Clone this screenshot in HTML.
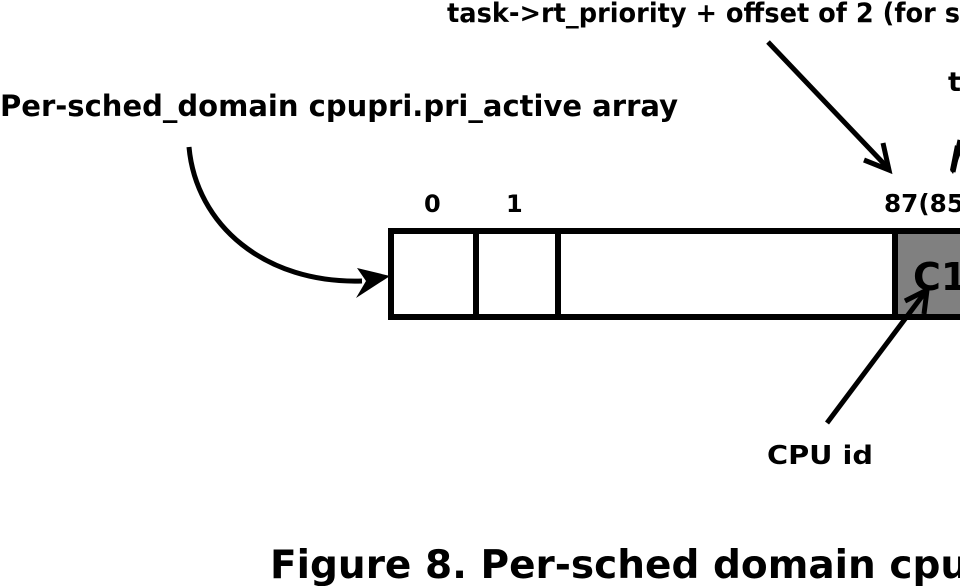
<!DOCTYPE html>
<html><head><meta charset="utf-8"><style>
html,body{margin:0;padding:0;background:#fff;width:960px;height:586px;overflow:hidden}
svg text{font-family:"DejaVu Sans","Liberation Sans",sans-serif;font-weight:bold;fill:#000}
</style></head><body>
<svg width="960" height="586" viewBox="0 0 960 586" xmlns="http://www.w3.org/2000/svg">
<text x="447" y="22" font-size="27" textLength="513" lengthAdjust="spacingAndGlyphs">task-&gt;rt_priority + offset of 2 (for s</text>
<text x="0" y="116" font-size="29" textLength="678" lengthAdjust="spacingAndGlyphs">Per-sched_domain cpupri.pri_active array</text>
<text x="948" y="91" font-size="27">t</text>
<text x="424" y="212" font-size="24">0</text>
<text x="506" y="212" font-size="24">1</text>
<text x="884" y="212" font-size="25" textLength="80" lengthAdjust="spacingAndGlyphs">87(85</text>
<rect x="895" y="231" width="70" height="86" fill="#808080"/>
<rect x="391" y="231" width="600" height="86" fill="none" stroke="#000" stroke-width="6"/>
<line x1="476" y1="231" x2="476" y2="317" stroke="#000" stroke-width="6"/>
<line x1="558" y1="231" x2="558" y2="317" stroke="#000" stroke-width="6"/>
<line x1="895" y1="231" x2="895" y2="317" stroke="#000" stroke-width="6"/>
<text x="913" y="290" font-size="38">C1</text>
<path d="M189,147 C196,225 265,284 362,281" fill="none" stroke="#000" stroke-width="5"/>
<polygon points="390,276 357,268 366,281 356,298" fill="#000"/>
<line x1="768" y1="42" x2="887" y2="167" stroke="#000" stroke-width="5"/>
<polyline points="864,160 889,170 883,143" fill="none" stroke="#000" stroke-width="5"/>
<line x1="960" y1="140" x2="953" y2="172" stroke="#000" stroke-width="5"/>
<polygon points="955,145 962,150 953,174 950,170" fill="#000"/>
<line x1="827" y1="423" x2="926" y2="291" stroke="#000" stroke-width="5"/>
<polyline points="905,301 927,290 924,314" fill="none" stroke="#000" stroke-width="5"/>
<text x="767" y="464" font-size="26" textLength="106" lengthAdjust="spacingAndGlyphs">CPU id</text>
<text x="270" y="578" font-size="39">Figure 8. Per-sched domain cpupri.pri_active</text>
</svg>
</body></html>
